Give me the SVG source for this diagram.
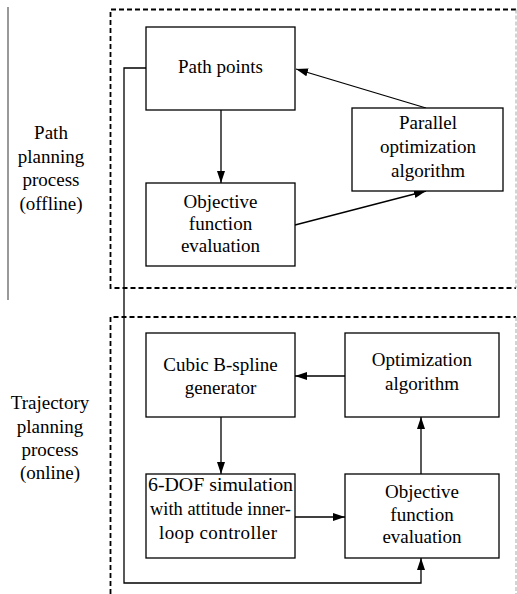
<svg xmlns="http://www.w3.org/2000/svg" width="517" height="594" viewBox="0 0 517 594">
  <style>
    .box { fill: #fff; stroke: #000; stroke-width: 1.3; }
    .lbl { font-family: 'Liberation Serif', 'Times New Roman', Times, 'DejaVu Serif', serif; font-size: 19px; fill: #000; text-anchor: middle; }
    .dash { fill: none; stroke: #000; stroke-width: 1.8; stroke-dasharray: 5 3; }
    .dash-edge { fill: none; stroke: #a8a8a8; stroke-width: 1; stroke-dasharray: 4 2; }
    .conn { fill: none; stroke: #000; stroke-width: 1.3; }
  </style>
  <defs>
    <marker id="arrow" markerUnits="userSpaceOnUse" markerWidth="13" markerHeight="9" refX="12" refY="4" orient="auto">
      <path d="M0,0 L12,4 L0,8 z" fill="#000"/>
    </marker>
  </defs>

  <rect width="517" height="594" fill="#fff"/>

  <!-- section divider and region frames -->
  <g id="frames">
    <line x1="8" y1="7" x2="8" y2="300" stroke="#555" stroke-width="1.2"/>
    <path class="dash" d="M516,9.5 H110.5 V288 H516"/>
    <line class="dash-edge" x1="516" y1="9.5" x2="516" y2="288"/>
    <path class="dash" d="M110.5,594 V317 H516"/>
    <line class="dash-edge" x1="516" y1="317" x2="516" y2="594"/>
  </g>

  <!-- region captions -->
  <g id="caption-offline">
    <text class="lbl" x="51" y="139">Path</text>
    <text class="lbl" x="51" y="163">planning</text>
    <text class="lbl" x="51" y="186">process</text>
    <text class="lbl" x="51" y="210">(offline)</text>
  </g>
  <g id="caption-online">
    <text class="lbl" x="50" y="409">Trajectory</text>
    <text class="lbl" x="50" y="433">planning</text>
    <text class="lbl" x="50" y="456">process</text>
    <text class="lbl" x="50" y="479">(online)</text>
  </g>

  <!-- connectors -->
  <g id="connectors">
    <path class="conn" d="M221,110 V183" marker-end="url(#arrow)"/>
    <path class="conn" d="M426,108 L296,69" marker-end="url(#arrow)"/>
    <path class="conn" d="M295,225 L426,191" marker-end="url(#arrow)"/>
    <path class="conn" d="M345,376 H295" marker-end="url(#arrow)"/>
    <path class="conn" d="M221,417 V474" marker-end="url(#arrow)"/>
    <path class="conn" d="M295,517 H345" marker-end="url(#arrow)"/>
    <path class="conn" d="M421,474 V417" marker-end="url(#arrow)"/>
    <path class="conn" d="M146,68 H124 V583 H421 V558" marker-end="url(#arrow)"/>
  </g>

  <!-- offline nodes -->
  <g id="path-points">
    <rect class="box" x="146" y="27" width="149" height="83"/>
    <text class="lbl" x="220.5" y="73">Path points</text>
  </g>
  <g id="objective-offline">
    <rect class="box" x="146" y="183" width="149" height="83"/>
    <text class="lbl" x="220.5" y="208">Objective</text>
    <text class="lbl" x="220.5" y="230">function</text>
    <text class="lbl" x="220.5" y="252">evaluation</text>
  </g>
  <g id="parallel-optimization">
    <rect class="box" x="352" y="108" width="151" height="83"/>
    <text class="lbl" x="428" y="129">Parallel</text>
    <text class="lbl" x="428" y="153">optimization</text>
    <text class="lbl" x="428" y="177">algorithm</text>
  </g>

  <!-- online nodes -->
  <g id="bspline-generator">
    <rect class="box" x="146" y="333" width="149" height="84"/>
    <text class="lbl" x="220.5" y="371">Cubic B-spline</text>
    <text class="lbl" x="220.5" y="394">generator</text>
  </g>
  <g id="optimization">
    <rect class="box" x="345" y="333" width="154" height="84"/>
    <text class="lbl" x="422" y="366">Optimization</text>
    <text class="lbl" x="422" y="390">algorithm</text>
  </g>
  <g id="simulation">
    <rect class="box" x="146" y="474" width="149" height="84"/>
    <text class="lbl" x="220.5" y="491" textLength="145" lengthAdjust="spacingAndGlyphs">6-DOF simulation</text>
    <text class="lbl" x="220.5" y="515" textLength="141" lengthAdjust="spacingAndGlyphs">with attitude inner-</text>
    <text class="lbl" x="218" y="539" textLength="118" lengthAdjust="spacing">loop controller</text>
  </g>
  <g id="objective-online">
    <rect class="box" x="345" y="474" width="154" height="84"/>
    <text class="lbl" x="422" y="498">Objective</text>
    <text class="lbl" x="422" y="521">function</text>
    <text class="lbl" x="422" y="543">evaluation</text>
  </g>
</svg>
